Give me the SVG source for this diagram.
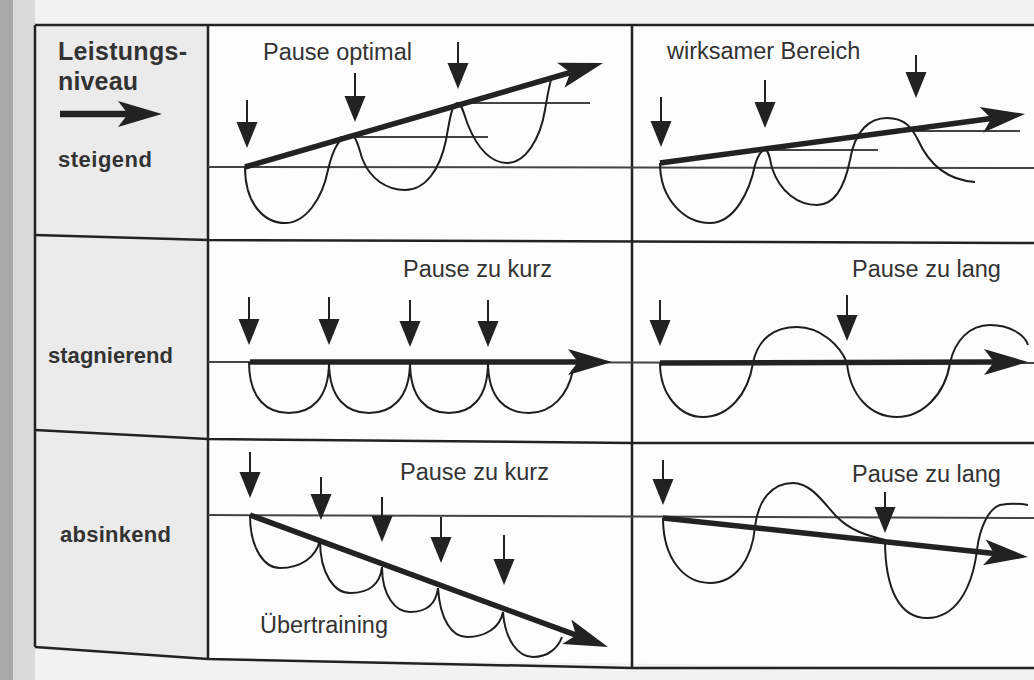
<svg xmlns="http://www.w3.org/2000/svg" width="1034" height="680" viewBox="0 0 1034 680">
<style>
.grid{fill:none;stroke:#222;stroke-width:2.5}
.ref{fill:none;stroke:#444;stroke-width:2}
.curve{fill:none;stroke:#1e1e1e;stroke-width:2}
.big{fill:none;stroke:#222;stroke-width:5.5;marker-end:url(#bighead)}
.dn{fill:none;stroke:#222;stroke-width:2;marker-end:url(#dnhead)}
.lbl{font-family:"Liberation Sans",Arial,sans-serif;font-size:23.5px;fill:#333}
.row{font-family:"Liberation Sans",Arial,sans-serif;font-weight:bold;font-size:22px;fill:#333}
.hd{font-family:"Liberation Sans",Arial,sans-serif;font-weight:bold;font-size:25px;fill:#333}
</style>
<defs>
<marker id="bighead" markerUnits="userSpaceOnUse" markerWidth="46" markerHeight="30" viewBox="0 0 46 30" refX="10" refY="15" orient="auto" overflow="visible">
<path d="M0,2 L44,15 L0,28 L10,15 Z" fill="#222"/>
</marker>
<marker id="dnhead" markerUnits="userSpaceOnUse" markerWidth="27" markerHeight="22" viewBox="0 0 27 22" refX="0" refY="11" orient="auto" overflow="visible">
<path d="M0,0.5 L26,11 L0,21.5 Z" fill="#222"/>
</marker>
</defs>

<g id="background">
<rect x="0" y="0" width="1034" height="680" fill="#f2f2f2"/>
<rect x="0" y="0" width="13" height="680" fill="#a8a8a8"/>
<rect x="13" y="0" width="22" height="680" fill="#dadada"/>
<polygon points="35,25 208,25 208,659 35,647" fill="#ebebeb"/>
<polygon points="208,25 1034,25 1034,668 208,659" fill="#fdfdfd"/>
</g>

<g id="grid">
<path class="grid" d="M35,25 L1034,25"/>
<path class="grid" d="M35,235 L208,240 L1034,243"/>
<path class="grid" d="M35,430 L208,439 L632,443 L1034,443"/>
<path class="grid" d="M35,647 L208,659 L632,668 L1034,668"/>
<path class="grid" d="M35,25 L35,647"/>
<path class="grid" d="M208,25 L208,659"/>
<path class="grid" d="M632,25 L632,668"/>
</g>

<g id="legend">
<text class="hd" x="58" y="60" textLength="129">Leistungs-</text>
<text class="hd" x="58" y="90" textLength="80">niveau</text>
<path class="big" style="stroke-width:6.5" d="M60,114 L128,114"/>
</g>

<g id="row-steigend">
<text class="row" x="58" y="167" textLength="94">steigend</text>
</g>
<g id="row-stagnierend">
<text class="row" x="48" y="363" textLength="125">stagnierend</text>
</g>
<g id="row-absinkend">
<text class="row" x="60" y="542" textLength="111">absinkend</text>
</g>

<g id="reference-lines">
<path class="ref" d="M208,167 L1034,168"/>
<path class="ref" d="M208,362 L1034,363"/>
<path class="ref" d="M208,515 L1034,518"/>
</g>

<g id="cell-optimal">
<text class="lbl" x="263" y="60">Pause optimal</text>
<path class="ref" d="M340,137 L488,137"/>
<path class="ref" d="M457,103 L590,103"/>
<path class="curve" d="M245,167 C245,205 265,223 285,223 C305,223 322,200 328,170 C333,148 340,136 350,135 C356,135 358,145 362,158 C370,180 388,190 405,190 C425,190 440,170 446,140 C450,118 452,104 457,103 C462,103 464,115 468,125 C478,150 492,163 507,163 C525,163 540,140 545,110 C548,92 550,82 552,77"/>
<path class="big" d="M245,167 L570.4,72.5"/>
<path class="dn" d="M247,100 L247,122"/>
<path class="dn" d="M355,73 L355,96"/>
<path class="dn" d="M458,42 L458,63"/>
</g>

<g id="cell-wirksam">
<text class="lbl" x="667" y="59">wirksamer Bereich</text>
<path class="ref" d="M760,150 L878,150"/>
<path class="ref" d="M913,131 L1020,131"/>
<path class="curve" d="M660,163 C660,200 685,223 710,223 C735,223 750,190 755,165 C758,155 761,150 765,150 C769,150 770,160 772,168 C780,192 798,205 817,205 C835,205 845,185 850,160 C855,130 870,118 887,118 C905,118 912,128 918,140 C928,162 945,180 975,182"/>
<path class="big" d="M660,163 L991.3,118.5"/>
<path class="dn" d="M661,97 L661,121"/>
<path class="dn" d="M765,80 L765,102"/>
<path class="dn" d="M916,55 L916,72"/>
</g>

<g id="cell-stag-kurz">
<text class="lbl" x="403" y="277">Pause zu kurz</text>
<path class="curve" d="M249,362 C249,400 268,413 289,413 C310,413 329,400 329,362 C329,400 348,413 369,413 C390,413 410,400 410,362 C410,400 428,413 449,413 C470,413 488,400 488,362 C488,400 507,413 529,413 C552,413 568,395 573,370"/>
<path class="big" d="M250,362 L578,362"/>
<path class="dn" d="M249,297 L249,319"/>
<path class="dn" d="M329,297 L329,319"/>
<path class="dn" d="M410,300 L410,321"/>
<path class="dn" d="M488,300 L488,321"/>
</g>

<g id="cell-stag-lang">
<text class="lbl" x="852" y="277">Pause zu lang</text>
<path class="curve" d="M660,363 C660,395 680,417 703,417 C728,417 748,395 753,363 C758,338 775,327 797,327 C820,327 840,345 847,363 C850,395 870,417 897,417 C922,417 945,395 950,363 C955,340 970,325 990,325 C1010,325 1025,335 1028,345"/>
<path class="big" d="M660,363 L994,362"/>
<path class="dn" d="M660,300 L660,320"/>
<path class="dn" d="M847,295 L847,315"/>
</g>

<g id="cell-abs-kurz">
<text class="lbl" x="400" y="480">Pause zu kurz</text>
<text class="lbl" x="260" y="633">Übertraining</text>
<path class="curve" d="M250,515 C250,550 265,568 280,568 C300,568 316,558 320,540 C320,575 335,593 350,593 C368,593 380,585 382,567 C382,595 395,612 410,612 C425,612 436,605 438,588 C440,620 452,637 467,637 C485,637 500,628 503,612 C505,640 518,657 533,657 C548,657 558,648 562,637"/>
<path class="big" d="M250,515 L576.1,635.2"/>
<path class="dn" d="M250,452 L250,472"/>
<path class="dn" d="M321,477 L321,494"/>
<path class="dn" d="M382,497 L382,516"/>
<path class="dn" d="M441,517 L441,537"/>
<path class="dn" d="M504,535 L504,559"/>
</g>

<g id="cell-abs-lang">
<text class="lbl" x="852" y="482">Pause zu lang</text>
<path class="curve" d="M663,518 C663,560 685,583 710,583 C735,583 752,560 755,527 C758,500 772,483 793,483 C812,483 825,505 837,517 C850,530 865,535 885,540 C885,590 900,618 927,618 C955,618 972,590 977,550 C980,525 990,508 1000,505 C1012,503 1022,504 1028,505"/>
<path class="big" d="M663,518 L994.2,553.4"/>
<path class="dn" d="M663,460 L663,479"/>
<path class="dn" d="M885,492 L885,507"/>
</g>
</svg>
